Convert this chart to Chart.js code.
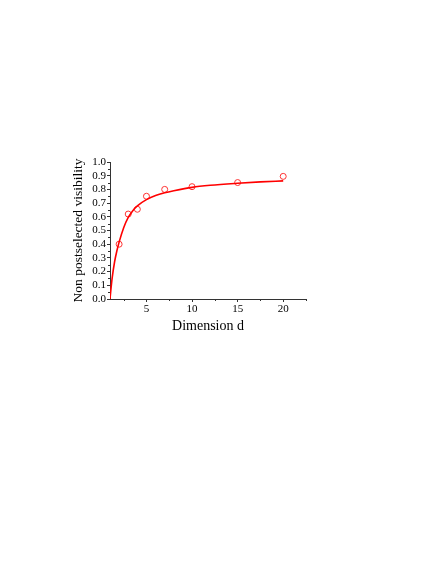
<!DOCTYPE html>
<html>
<head>
<meta charset="utf-8">
<script src="https://cdn.jsdelivr.net/npm/chart.js@4/dist/chart.umd.min.js"></script>
<style>
  html, body { margin: 0; padding: 0; background: #fff; }
  #wrap { width: 436px; height: 564px; }
</style>
</head>
<body>
<div id="wrap"><canvas id="chart" width="436" height="564"></canvas></div>
<script>
// measured points
const dims = [2, 3, 4, 5, 7, 10, 15, 20];
const visibility = [0.40, 0.62, 0.655, 0.75, 0.80, 0.82, 0.85, 0.895];

// fitted curve
const fitDims = [1, 1.1, 1.25, 1.5, 1.75, 2, 2.5, 3, 3.5, 4, 5, 6, 7, 8, 10, 12, 15, 17.5, 20];
const fitVals = [0, 0.07, 0.16, 0.27, 0.35, 0.415, 0.52, 0.595, 0.645, 0.68, 0.725, 0.755, 0.775, 0.79, 0.815, 0.83, 0.845, 0.855, 0.862];

const xTicks = [5, 10, 15, 20];
const xMinor = [2.5, 7.5, 12.5, 17.5, 22.5];
const yMinor = [0.05, 0.15, 0.25, 0.35, 0.45, 0.55, 0.65, 0.75, 0.85, 0.95];

const serif = "'Liberation Serif', 'Times New Roman', serif";

const minorTicks = {
  id: "minorTicks",
  afterDraw(chart) {
    const ctx = chart.ctx;
    const x = chart.scales.x, y = chart.scales.y;
    ctx.save();
    ctx.strokeStyle = "#333";
    ctx.lineWidth = 1;
    ctx.beginPath();
    xMinor.forEach(v => {
      const px = Math.round(x.getPixelForValue(v)) + 0.5;
      ctx.moveTo(px, y.bottom);
      ctx.lineTo(px, y.bottom + 2);
    });
    yMinor.forEach(v => {
      const py = Math.round(y.getPixelForValue(v)) + 0.5;
      ctx.moveTo(x.left, py);
      ctx.lineTo(x.left - 2, py);
    });
    ctx.stroke();
    ctx.restore();
  }
};

new Chart(document.getElementById("chart"), {
  type: "scatter",
  data: {
    datasets: [
      {
        label: "fit",
        data: fitDims.map((d, i) => ({ x: d, y: fitVals[i] })),
        showLine: true,
        borderColor: "#ff0000",
        borderWidth: 1.6,
        pointRadius: 0,
        cubicInterpolationMode: "monotone",
      },
      {
        label: "data",
        data: dims.map((d, i) => ({ x: d, y: visibility[i] })),
        showLine: false,
        borderColor: "#ff3333",
        backgroundColor: "rgba(0,0,0,0)",
        borderWidth: 1,
        pointRadius: 3,
      },
    ],
  },
  options: {
    responsive: false,
    animation: false,
    layout: { padding: { left: 66, right: 130, top: 162, bottom: 225 } },
    plugins: { legend: { display: false }, tooltip: { enabled: false } },
    scales: {
      x: {
        type: "linear",
        min: 1,
        max: 22.5,
        afterBuildTicks: (s) => { s.ticks = xTicks.map(v => ({ value: v })); },
        afterFit: (s) => { s.height = 40; },
        border: { color: "#333", width: 1 },
        grid: { drawOnChartArea: false, tickLength: 3, tickColor: "#333" },
        ticks: { color: "#000", font: { family: serif, size: 11 }, padding: 1 },
        title: { display: true, text: "Dimension d", color: "#000", font: { family: serif, size: 14 }, padding: { top: 3 } },
      },
      y: {
        min: 0,
        max: 1,
        afterFit: (s) => { s.width = 44; },
        border: { color: "#333", width: 1 },
        grid: { drawOnChartArea: false, tickLength: 3, tickColor: "#333" },
        ticks: { stepSize: 0.1, autoSkip: false, color: "#000", font: { family: serif, size: 11 }, padding: 1,
                 callback: (v) => v.toFixed(1) },
        title: { display: true, text: "Non postselected visibility", color: "#000", font: { family: serif, size: 13.5 }, padding: { top: 4, bottom: 2 } },
      },
    },
  },
  plugins: [minorTicks],
});
</script>
</body>
</html>
